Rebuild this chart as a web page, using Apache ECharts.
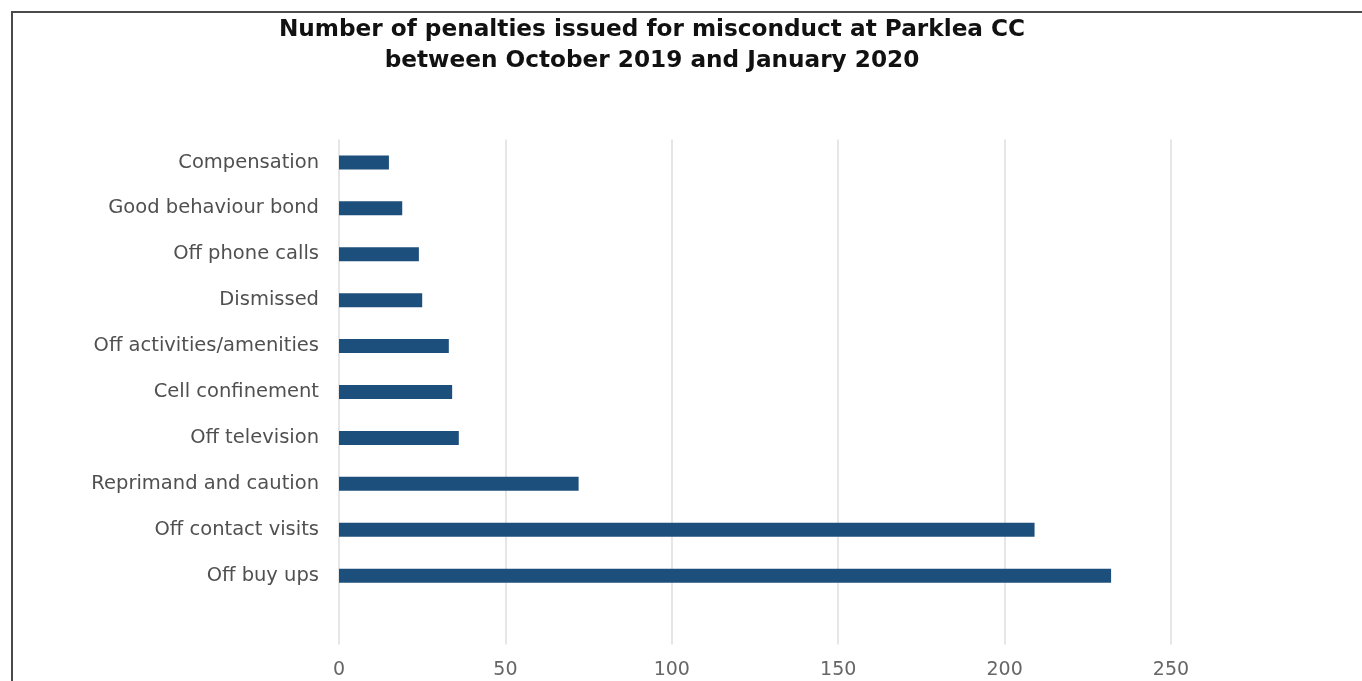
<!DOCTYPE html>
<html>
<head>
<meta charset="utf-8">
<script src="https://cdn.jsdelivr.net/npm/echarts@6/dist/echarts.min.js"></script>
<style>
html,body{margin:0;padding:0;background:#fff;}
#chart{width:1362px;height:681px;}
</style>
</head>
<body>
<div id="chart"></div>
<script>
const titleLines = ['Number of penalties issued for misconduct at Parklea CC', 'between October 2019 and January 2020'];
const categories = ['Compensation', 'Good behaviour bond', 'Off phone calls', 'Dismissed', 'Off activities/amenities', 'Cell confinement', 'Off television', 'Reprimand and caution', 'Off contact visits', 'Off buy ups'];
const penalties = [15, 19, 24, 25, 33, 34, 36, 72, 209, 232];
const xTicks = { min: 0, max: 250, interval: 50 };

const chart = echarts.init(document.getElementById('chart'));
chart.setOption({
  animation: false,
  backgroundColor: '#ffffff',
  title: {
    text: titleLines.join('\n'),
    left: 647,
    top: 9,
    textAlign: 'center',
    textStyle: {
      fontFamily: 'DejaVu Sans',
      fontWeight: 'bold',
      fontSize: 23.2,
      lineHeight: 31,
      color: '#111111'
    }
  },
  graphic: [{
    type: 'polyline',
    silent: true,
    shape: { points: [[12, 700], [12, 12], [1400, 12]] },
    style: { stroke: '#4a4a4a', lineWidth: 2, fill: null }
  }],
  grid: { left: 339, right: 191, top: 139.5, height: 505 },
  xAxis: {
    type: 'value',
    min: xTicks.min,
    max: xTicks.max,
    interval: xTicks.interval,
    axisLine: { show: false },
    axisTick: { show: false },
    splitLine: { show: true, lineStyle: { color: '#dedede', width: 1.5 } },
    axisLabel: {
      margin: 16,
      fontFamily: 'DejaVu Sans',
      fontSize: 19,
      color: '#666666'
    }
  },
  yAxis: {
    type: 'category',
    data: categories,
    inverse: true,
    max: categories.length,
    axisLine: { show: false },
    axisTick: { show: false },
    splitLine: { show: false },
    axisLabel: {
      margin: 20,
      fontFamily: 'DejaVu Sans',
      fontSize: 19.5,
      color: '#505050'
    }
  },
  series: [{
    type: 'bar',
    data: penalties,
    barWidth: 14,
    itemStyle: { color: '#1c4f7c' }
  }]
});
</script>
</body>
</html>
